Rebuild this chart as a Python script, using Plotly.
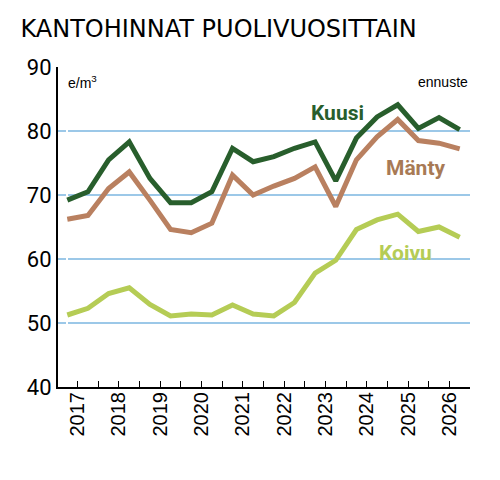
import plotly.graph_objects as go

years = [str(y) for y in range(2017, 2027)]
kuusi = [69.2,70.5,75.5,78.3,72.6,68.8,68.8,70.5,77.3,75.2,76.0,77.3,78.3,72.2,78.9,82.2,84.1,80.4,82.1,80.2]
manty = [66.2,66.8,71.0,73.6,69.2,64.6,64.1,65.6,73.1,70.0,71.4,72.6,74.4,68.2,75.5,79.1,81.8,78.5,78.1,77.2]
koivu = [51.25,52.3,54.6,55.5,52.9,51.1,51.4,51.25,52.8,51.4,51.1,53.2,57.8,59.8,64.6,66.1,67.0,64.3,65.0,63.4]
x = list(range(len(kuusi)))

fig = go.Figure()
for name, vals, col in [("Koivu", koivu, "#b5cc55"), ("Mänty", manty, "#b98060"), ("Kuusi", kuusi, "#285e2c")]:
    fig.add_trace(go.Scatter(x=x, y=vals, mode="lines", line=dict(color=col, width=5), name=name, showlegend=False))

annos = [
    dict(x=13.1, y=82.8, text="<b>Kuusi</b>", font=dict(color="#285e2c", size=21)),
    dict(x=16.9, y=74.2, text="<b>Mänty</b>", font=dict(color="#a87a55", size=21)),
    dict(x=16.4, y=61.0, text="<b>Koivu</b>", font=dict(color="#b5cc55", size=21)),
]
for a in annos:
    a.update(xref="x", yref="y", showarrow=False, font=dict(family="Roboto", **a["font"]))
    fig.add_annotation(**a)
fig.add_annotation(x=0.02, y=87.6, xref="paper", yref="y", text="e/m<sup>3</sup>", showarrow=False, xanchor="left",
                   font=dict(family="Liberation Sans", size=14, color="black"))
fig.add_annotation(x=1.0, y=87.6, xref="paper", yref="y", text="ennuste", showarrow=False, xanchor="right",
                   font=dict(family="Liberation Sans", size=14, color="black"))

fig.update_layout(
    width=500, height=480, margin=dict(l=50, r=38, t=59, b=101, autoexpand=False),
    plot_bgcolor="white", paper_bgcolor="white",
    title=dict(text="KANTOHINNAT PUOLIVUOSITTAIN", x=0.025, xanchor="left", y=0.975, yanchor="top",
               font=dict(family="DejaVu Sans", size=24, color="black")),
)
fig.update_xaxes(range=[-0.45, 19.5], showgrid=False, showline=True, linecolor="black", linewidth=2,
                 tickmode="array", tickvals=[i + 0.5 for i in range(19)], ticktext=[" "] * 19,
                 ticks="inside", ticklen=6, tickcolor="black", zeroline=False, automargin=False)
fig.update_layout(xaxis2=dict(overlaying="x", matches="x", range=[-0.45, 19.5], showgrid=False, showline=False,
                              tickmode="array", tickvals=[2 * i + 0.5 for i in range(10)], ticktext=years,
                              tickangle=-90, tickfont=dict(family="Liberation Sans", size=20, color="black"),
                              ticks="", side="bottom", anchor="y", automargin=False))
fig.add_trace(go.Scatter(x=[0], y=[None], xaxis="x2", showlegend=False, hoverinfo="skip"))
fig.update_yaxes(range=[40, 90], dtick=10, showgrid=True, gridcolor="#9cc8e8", gridwidth=1.5,
                 showline=True, linecolor="black", linewidth=2, ticks="", zeroline=False, automargin=False,
                 tickfont=dict(family="Roboto", size=22, color="black"))
fig.write_html("out.html")
